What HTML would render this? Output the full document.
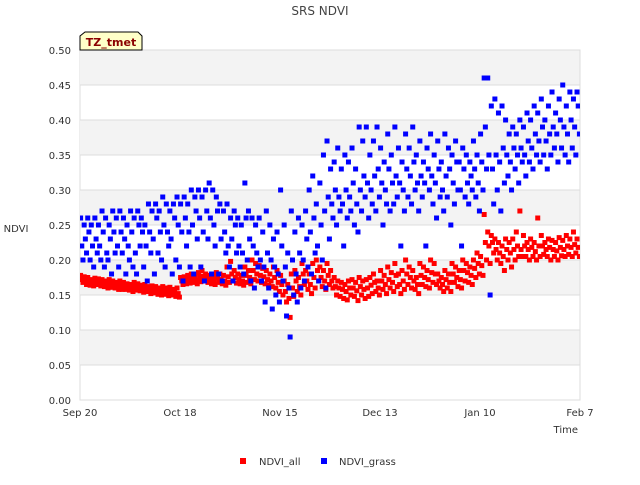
<!DOCTYPE html>
<html><head><meta charset="utf-8"><style>
body{margin:0;background:#fff;font-family:"Liberation Sans","DejaVu Sans",sans-serif;}
svg text{font-family:"DejaVu Sans","Liberation Sans",sans-serif;}
</style></head><body>
<svg id="c" width="640" height="480" viewBox="0 0 640 480">
<defs><clipPath id="pc"><rect x="80" y="50" width="500" height="350"/></clipPath></defs>
<text x="320" y="15" text-anchor="middle" font-size="12" fill="#444">SRS NDVI</text>
<g id="bands"></g>
<g id="grid"></g>
<g id="yticks"></g>
<g id="xticks"></g>
<g id="marks" clip-path="url(#pc)"></g>
<text x="16" y="232" text-anchor="middle" font-size="10" fill="#333">NDVI</text>
<text x="578" y="433" text-anchor="end" font-size="10" fill="#333">Time</text>
<g>
<path d="M80,50 L80,36 L85,32 L138,32 L142,36 L142,50 Z" fill="#ffffc8" stroke="#000" stroke-width="1"/>
<text x="111" y="46" text-anchor="middle" font-size="11" font-weight="bold" fill="#8b0000">TZ_tmet</text>
</g>
<g>
<g><rect x="240" y="458" width="6" height="6" fill="#f00"/><text x="259" y="465" font-size="10" fill="#333">NDVI_all</text></g>
<g><rect x="321" y="458" width="6" height="6" fill="#00f"/><text x="339" y="465" font-size="10" fill="#333">NDVI_grass</text></g>
</g>
</svg>
<script>
const xTickLabels=["Sep 20","Oct 18","Nov 15","Dec 13","Jan 10","Feb 7"];
const xTickDays=[0,28,56,84,112,140];
const yTicks=[0,0.05,0.1,0.15,0.2,0.25,0.3,0.35,0.4,0.45,0.5];
const grassVals=[[.26,.22,.20],[.25,.23,.21],[.26,.24,.20],[.25,.22,.19],[.26,.23,.21],[.25,.22,.20],[.27,.24,.19],[.26,.21,.20],[.25,.23,.18],[.27,.24,.21],
[.26,.22,.19],[.27,.24,.21],[.26,.23,.18],[.25,.22,.20],[.27,.24,.19],[.26,.21,.18],[.27,.25,.22],[.26,.24,.19],[.25,.22,.17],[.28,.24,.21],
[.27,.23,.18],[.28,.26,.21],[.27,.24,.20],[.29,.25,.19],[.28,.24,.22],[.27,.23,.18],[.28,.26,.20],[.29,.25,.19],[.28,.24,.17],[.29,.26,.22],
[.28,.24,.19],[.30,.25,.18],[.29,.27,.23],[.30,.26,.19],[.29,.24,.17],[.30,.27,.23],[.31,.26,.18],[.30,.25,.22],[.29,.27,.18],[.28,.23,.17],
[.27,.24,.21],[.28,.22,.19],[.26,.23,.17],[.27,.25,.21],[.26,.22,.19],[.25,.21,.18],[.31,.26,.20],[.27,.23,.17],[.26,.22,.16],[.25,.21,.19],
[.26,.20,.17],[.24,.19,.14],[.27,.21,.16],[.25,.20,.13],[.23,.19,.15],[.24,.18,.14],[.30,.22,.17],[.25,.19,.12],[.21,.16,.09],[.27,.20,.15],
[.24,.18,.14],[.26,.21,.16],[.25,.20,.17],[.27,.23,.19],[.30,.24,.18],[.32,.26,.21],[.28,.22,.17],[.31,.25,.20],[.35,.27,.16],[.37,.29,.23],
[.33,.28,.26],[.34,.30,.25],[.36,.29,.27],[.33,.28,.22],[.35,.30,.26],[.34,.29,.27],[.36,.31,.25],[.33,.28,.24],[.39,.30,.27],[.37,.32,.29],
[.39,.31,.26],[.35,.30,.28],[.37,.32,.27],[.39,.33,.29],[.36,.31,.25],[.34,.30,.28],[.38,.33,.27],[.35,.31,.28],[.39,.32,.29],[.36,.31,.22],
[.34,.30,.27],[.38,.33,.29],[.36,.32,.28],[.39,.34,.30],[.35,.31,.27],[.37,.32,.29],[.34,.31,.22],[.36,.33,.30],[.38,.32,.28],[.35,.31,.26],
[.37,.33,.29],[.34,.30,.27],[.38,.32,.29],[.36,.33,.25],[.35,.31,.28],[.37,.34,.30],[.34,.30,.22],[.36,.33,.29],[.35,.31,.28],[.34,.32,.30],
[.37,.33,.29],[.35,.31,.27],[.38,.34,.30],[.46,.39,.33],[.46,.35,.15],[.42,.33,.28],[.43,.35,.30],[.41,.34,.27],[.42,.36,.31],[.40,.35,.32],
[.38,.34,.30],[.39,.36,.33],[.38,.35,.31],[.40,.36,.34],[.39,.35,.32],[.41,.37,.34],[.40,.36,.33],[.42,.38,.35],[.41,.37,.34],[.43,.39,.35],
[.40,.37,.33],[.42,.38,.35],[.44,.39,.36],[.41,.38,.34],[.43,.40,.36],[.45,.39,.35],[.42,.38,.34],[.44,.40,.36],[.43,.39,.35],[.44,.42,.38]];
const allVals=[[.178,.172,.168],[.176,.170,.165],[.175,.168,.164],[.172,.167,.163],[.174,.168,.165],[.173,.168,.163],[.172,.166,.162],[.170,.165,.160],[.172,.166,.161],[.170,.164,.160],
[.168,.163,.158],[.170,.164,.158],[.168,.162,.158],[.166,.161,.157],[.165,.160,.155],[.168,.162,.157],[.166,.160,.156],[.164,.158,.154],[.165,.160,.155],[.162,.157,.152],
[.163,.158,.153],[.162,.156,.151],[.160,.155,.150],[.162,.156,.151],[.160,.154,.149],[.161,.155,.150],[.158,.153,.148],[.160,.152,.147],[.175,.170,.165],[.176,.170,.166],
[.178,.172,.167],[.180,.174,.168],[.177,.171,.166],[.182,.175,.169],[.185,.177,.170],[.180,.174,.168],[.178,.172,.166],[.176,.170,.165],[.182,.175,.168],[.180,.172,.166],
[.178,.170,.164],[.190,.176,.168],[.198,.180,.170],[.185,.175,.167],[.180,.172,.166],[.178,.170,.164],[.190,.178,.168],[.185,.175,.166],[.200,.185,.172],[.195,.180,.170],
[.192,.178,.168],[.188,.176,.166],[.185,.172,.164],[.180,.170,.162],[.190,.175,.160],[.185,.168,.155],[.178,.165,.150],[.170,.155,.140],[.165,.145,.118],[.180,.160,.148],
[.185,.170,.155],[.175,.162,.150],[.195,.180,.165],[.185,.170,.158],[.180,.165,.152],[.195,.175,.160],[.200,.185,.170],[.190,.175,.162],[.185,.170,.158],[.195,.178,.165],
[.185,.170,.160],[.175,.162,.150],[.170,.160,.148],[.168,.158,.145],[.165,.155,.143],[.170,.160,.150],[.172,.160,.148],[.168,.156,.142],[.175,.162,.150],[.170,.158,.145],
[.172,.160,.148],[.175,.164,.152],[.180,.168,.155],[.170,.160,.150],[.185,.170,.158],[.178,.165,.152],[.190,.172,.160],[.182,.168,.155],[.195,.178,.162],[.180,.165,.152],
[.185,.170,.158],[.200,.180,.165],[.190,.175,.160],[.185,.170,.158],[.175,.165,.152],[.195,.178,.165],[.190,.175,.162],[.185,.172,.160],[.200,.182,.168],[.195,.180,.165],
[.180,.170,.160],[.175,.165,.155],[.185,.172,.160],[.180,.168,.155],[.195,.180,.168],[.190,.175,.162],[.185,.172,.160],[.200,.185,.170],[.195,.182,.168],[.190,.178,.165],
[.200,.188,.175],[.210,.195,.180],[.205,.192,.178],[.265,.225,.200],[.240,.220,.195],[.235,.225,.210],[.230,.215,.200],[.225,.210,.195],[.220,.205,.185],[.230,.215,.200],
[.225,.210,.190],[.230,.215,.200],[.240,.220,.205],[.270,.215,.205],[.235,.220,.205],[.225,.215,.200],[.230,.218,.205],[.225,.212,.200],[.260,.220,.205],[.235,.220,.208],
[.225,.215,.205],[.230,.218,.200],[.228,.215,.205],[.225,.213,.200],[.232,.218,.206],[.228,.215,.205],[.235,.220,.208],[.230,.218,.205],[.240,.222,.210],[.230,.218,.205]];

const NS="http://www.w3.org/2000/svg";
const L=80,R=580,T=50,B=400;
const xS=d=>L+(d/140)*(R-L);
const yS=v=>B-(v/0.5)*(B-T);
function mk(tag,attrs,parent){const e=document.createElementNS(NS,tag);for(const k in attrs)e.setAttribute(k,attrs[k]);parent.appendChild(e);return e;}
const bands=document.getElementById('bands'),grid=document.getElementById('grid'),yt=document.getElementById('yticks'),xt=document.getElementById('xticks'),marks=document.getElementById('marks');
mk('rect',{x:L,y:T,width:R-L,height:B-T,fill:'#fff',stroke:'#ddd'},bands);
for(let i=0;i<yTicks.length-1;i++){
  if(i%2===1){const r=mk('rect',{x:L,y:yS(yTicks[i+1]),width:R-L,height:yS(yTicks[i])-yS(yTicks[i+1]),fill:'#f3f3f3'},bands);
  
  }
}
yTicks.forEach(v=>{
  const ln=mk('line',{x1:L,x2:R,y1:yS(v),y2:yS(v),stroke:'#ddd','stroke-width':1},grid);
  
  
  const t=mk('text',{x:L-9,y:yS(v)+4,'text-anchor':'end','font-size':10,fill:'#333'},yt);
  
  
  t.textContent=v.toFixed(2);
});
mk('line',{x1:R,x2:R,y1:T,y2:B,stroke:'#ddd'},grid);
xTickDays.forEach((d,i)=>{
  const t=mk('text',{x:xS(d),y:B+16,'text-anchor':'middle','font-size':10,fill:'#333'},xt);
  
  
  t.textContent=xTickLabels[i];
});
function draw(vals,color,name){
  vals.forEach((day,d)=>{day.forEach((v,j)=>{
    const x=xS(d+(j+0.5)/day.length);
    const r=mk('rect',{x:x-2.5,y:yS(v)-2.5,width:5,height:5,fill:color},marks);
    
    
  });});
}
draw(allVals,'#f00','ndvi-all-point');
draw(grassVals,'#00f','ndvi-grass-point');
</script>
</body></html>
